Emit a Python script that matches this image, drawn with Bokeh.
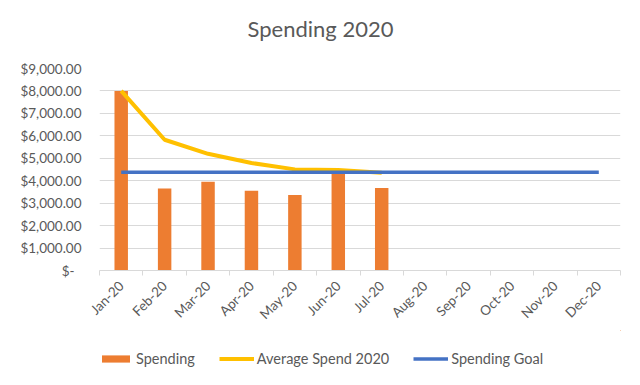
import math
from bokeh.plotting import figure
from bokeh.layouts import column
from bokeh.models import (Range1d, FixedTicker, CustomJSTickFormatter, Legend,
                          LegendItem, Label)
from bokeh.embed import file_html
from bokeh.resources import INLINE

# ---- data ----
months = ["Jan-20", "Feb-20", "Mar-20", "Apr-20", "May-20", "Jun-20",
          "Jul-20", "Aug-20", "Sep-20", "Oct-20", "Nov-20", "Dec-20"]
spending = [8000, 3650, 3950, 3555, 3365, 4335, 3675]
average_spend = [8000, 5825, 5200, 4790, 4505, 4475, 4360]
spending_goal = [4380, 4380, 4380, 4380, 4380, 4380,
                 4380, 4380, 4380, 4380, 4380, 4380]
y_ticks = [0, 1000, 2000, 3000, 4000, 5000, 6000, 7000, 8000, 9000]
series_names = ["Spending", "Average Spend 2020", "Spending Goal"]
chart_title = "Spending 2020"

FONT = "Lato"
GRAY = "#595959"
GRID = "#D9D9D9"
ORANGE = "#ED7D31"
YELLOW = "#FFC000"
BLUE = "#4472C4"

n = len(months)
x_pos = [i + 0.5 for i in range(n)]


def bare(h):
    # strip figure; frames are aligned with the main chart inside the column
    f = figure(width=640, height=h, output_backend="svg", toolbar_location=None,
               x_range=Range1d(-3, -2), y_range=Range1d(-3, -2),
               x_axis_type=None, y_axis_type=None,
               min_border_left=99, min_border_right=20, min_border_top=0,
               min_border_bottom=0)
    f.outline_line_color = None
    f.grid.visible = False
    f.background_fill_color = "white"
    f.border_fill_color = "white"
    return f


def draw_series(fig):
    b = fig.vbar(x=x_pos[:len(spending)], top=spending, width=0.31, bottom=0,
                 fill_color=ORANGE, line_color=None)
    a = fig.line(x=x_pos[:len(average_spend)], y=average_spend,
                 line_color=YELLOW, line_width=4, line_join="round")
    g = fig.line(x=x_pos[:len(spending_goal)], y=spending_goal,
                 line_color=BLUE, line_width=3.5)
    return b, a, g


# ---- title strip ----
tf = bare(50)
tf.add_layout(Label(x=221, y=22, x_units="screen", y_units="screen",
                    text=chart_title, text_align="center",
                    text_baseline="middle", text_font=FONT,
                    text_font_size="22px", text_color=GRAY))

# ---- main chart ----
p = figure(width=640, height=280, output_backend="svg", toolbar_location=None,
           x_range=Range1d(0, n), y_range=Range1d(0, 9000),
           min_border_left=99, min_border_right=20, min_border_top=18,
           min_border_bottom=58)
p.outline_line_color = None
p.background_fill_color = "white"
p.border_fill_color = "white"

p.xgrid.visible = False
p.ygrid.grid_line_color = GRID
p.ygrid.grid_line_width = 1
p.ygrid.ticker = FixedTicker(ticks=y_ticks)

p.yaxis.ticker = FixedTicker(ticks=y_ticks)
p.yaxis.formatter = CustomJSTickFormatter(code="""
    if (tick == 0) { return "$-\u00a0\u00a0"; }
    return "$" + tick.toLocaleString('en-US', {minimumFractionDigits: 2, maximumFractionDigits: 2});
""")
p.yaxis.axis_line_color = None
p.yaxis.major_tick_line_color = None
p.yaxis.minor_tick_line_color = None
p.yaxis.major_tick_out = 0
p.yaxis.major_tick_in = 0
p.yaxis.major_label_standoff = 18
p.yaxis.major_label_text_font = FONT
p.yaxis.major_label_text_font_size = "13.5px"
p.yaxis.major_label_text_color = GRAY

p.xaxis.ticker = FixedTicker(ticks=x_pos, minor_ticks=list(range(n + 1)))
p.xaxis.formatter = CustomJSTickFormatter(args=dict(labels=months), code="""
    const i = Math.floor(tick);
    return (i >= 0 && i < labels.length) ? labels[i] : "";
""")
p.xaxis.axis_line_color = GRID
p.xaxis.major_tick_out = 0
p.xaxis.major_tick_in = 0
p.xaxis.minor_tick_out = 5
p.xaxis.minor_tick_in = 0
p.xaxis.minor_tick_line_color = GRID
p.xaxis.major_label_orientation = math.pi / 4
p.xaxis.major_label_standoff = 8
p.xaxis.major_label_text_font = FONT
p.xaxis.major_label_text_font_size = "13.5px"
p.xaxis.major_label_text_color = GRAY

draw_series(p)

# ---- legend strip (series drawn out of view; only legend glyphs show) ----
lf = bare(55)
lb, la, lg = draw_series(lf)
legend = Legend(items=[LegendItem(label=series_names[0], renderers=[lb]),
                       LegendItem(label=series_names[1], renderers=[la]),
                       LegendItem(label=series_names[2], renderers=[lg])],
                orientation="horizontal", location=(-1, 18),
                label_text_font=FONT, label_text_font_size="14.5px",
                label_text_color=GRAY, glyph_width=35, glyph_height=9,
                spacing=24, label_standoff=3, padding=0, margin=0,
                border_line_color=None, background_fill_alpha=0)
lf.add_layout(legend)

layout = column(tf, p, lf, spacing=0)
open("out.html", "w").write(file_html(layout, INLINE))
